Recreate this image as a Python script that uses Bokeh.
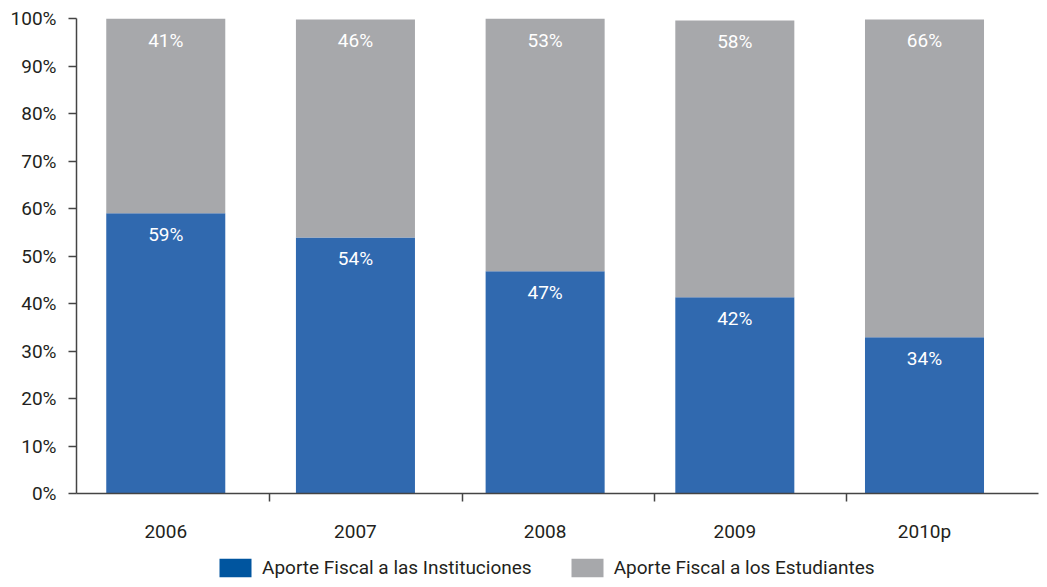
from bokeh.plotting import figure
from bokeh.layouts import column
from bokeh.models import (ColumnDataSource, FixedTicker, Range1d, Legend, LegendItem)
from bokeh.core.properties import value
from bokeh.embed import file_html
from bokeh.resources import INLINE

years = ["2006", "2007", "2008", "2009", "2010p"]
instituciones = [59.0, 53.9, 46.8, 41.3, 32.9]
estudiantes = [41.0, 45.9, 53.2, 58.3, 66.9]
labels_inst = ["59%", "54%", "47%", "42%", "34%"]
labels_est = ["41%", "46%", "53%", "58%", "66%"]
y_ticks = [0, 10, 20, 30, 40, 50, 60, 70, 80, 90, 100]
y_tick_labels = ["0%", "10%", "20%", "30%", "40%", "50%", "60%", "70%", "80%", "90%", "100%"]
series_names = ["Aporte Fiscal a las Instituciones", "Aporte Fiscal a los Estudiantes"]

FONT = "Roboto"
FS = "19px"
TXT = "#231F20"
AX = "#444444"
BLUE_BAR = "#3069AF"
BLUE_LEG = "#00559F"
GRAY = "#A7A8AB"

xs = list(range(len(years)))
totals = [a + b for a, b in zip(instituciones, estudiantes)]
src = ColumnDataSource(dict(x=xs, inst=instituciones, est=estudiantes, total=totals,
                            lab_i=labels_inst, lab_e=labels_est))

p = figure(width=1039, height=552, output_backend="svg", toolbar_location=None,
           x_range=Range1d(-0.4706, 4.601), y_range=Range1d(0, 100),
           min_border_left=76, min_border_right=1, min_border_top=18, min_border_bottom=59)
p.outline_line_color = None
p.grid.visible = False
p.background_fill_color = "white"
p.border_fill_color = "white"

p.vbar(x="x", bottom=0, top="inst", width=0.6275, source=src, fill_color=BLUE_BAR, line_color=None)
p.vbar(x="x", bottom="inst", top="total", width=0.6275, source=src, fill_color=GRAY, line_color=None)

p.text(x="x", y="inst", text="lab_i", source=src, text_color="white", text_align="center",
       text_baseline="top", y_offset=10, text_font=value(FONT), text_font_size=FS)
p.text(x="x", y="total", text="lab_e", source=src, text_color="white", text_align="center",
       text_baseline="top", y_offset=10, text_font=value(FONT), text_font_size=FS)

# axes
xa = p.xaxis[0]
xa.ticker = FixedTicker(ticks=xs, minor_ticks=[0.549, 1.563, 2.578, 3.587])
xa.major_label_overrides = {i: y for i, y in enumerate(years)}
xa.major_tick_out = 0
xa.major_tick_in = 0
xa.minor_tick_out = 8
xa.minor_tick_in = 0
xa.minor_tick_line_color = AX
xa.minor_tick_line_width = 1.5
xa.axis_line_color = AX
xa.axis_line_width = 1.5
xa.major_label_standoff = 18
xa.major_label_text_font = FONT
xa.major_label_text_font_size = FS
xa.major_label_text_color = TXT

ya = p.yaxis[0]
ya.ticker = FixedTicker(ticks=y_ticks, minor_ticks=[])
ya.major_label_overrides = {t: l for t, l in zip(y_ticks, y_tick_labels)}
ya.major_tick_out = 8
ya.major_tick_in = 0
ya.major_tick_line_color = AX
ya.major_tick_line_width = 1.5
ya.axis_line_color = AX
ya.axis_line_width = 1.5
ya.major_label_standoff = 12
ya.major_label_text_font = FONT
ya.major_label_text_font_size = FS
ya.major_label_text_color = TXT

# legend strip as a second figure below the chart
lg = figure(width=1039, height=27, output_backend="svg", toolbar_location=None,
            x_range=Range1d(0, 1), y_range=Range1d(0, 1), x_axis_type=None, y_axis_type=None,
            min_border_left=0, min_border_right=0, min_border_top=0, min_border_bottom=0)
lg.outline_line_color = None
lg.grid.visible = False
r1 = lg.vbar(x="x", top="inst", width=0.5, source=src, fill_color=BLUE_LEG, line_color=None, visible=False)
r2 = lg.vbar(x="x", top="est", width=0.5, source=src, fill_color=GRAY, line_color=None, visible=False)
legend = Legend(items=[LegendItem(label=series_names[0], renderers=[r1]),
                       LegendItem(label=series_names[1], renderers=[r2])],
                orientation="horizontal", location=(139, 0),
                glyph_width=40, glyph_height=23, label_standoff=7, spacing=35,
                padding=0, margin=0, border_line_color=None, background_fill_alpha=0,
                label_text_font=FONT, label_text_font_size=FS, label_text_color=TXT)
lg.add_layout(legend, "center")

layout = column(p, lg, spacing=0)
open("out.html", "w").write(file_html(layout, INLINE))
